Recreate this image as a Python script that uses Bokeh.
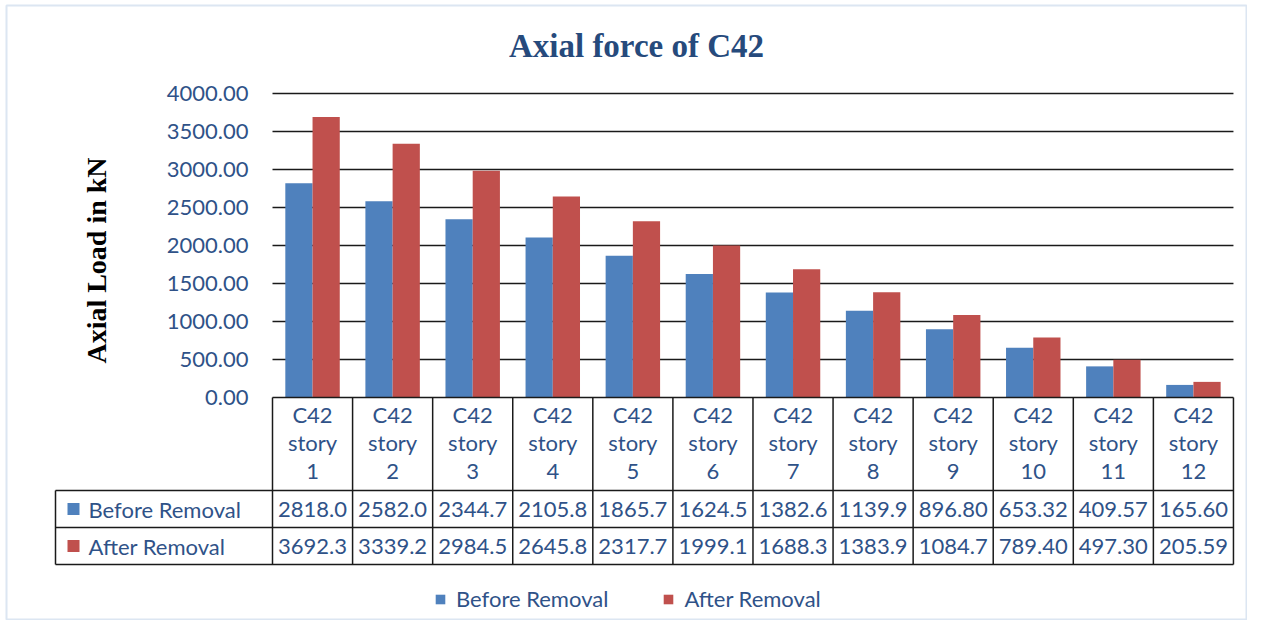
from bokeh.plotting import figure
from bokeh.models import Range1d, ColumnDataSource, Legend, LegendItem
from bokeh.core.properties import value
from bokeh.embed import file_html
from bokeh.resources import INLINE

# ---- data ----
categories = ["C42\nstory\n1", "C42\nstory\n2", "C42\nstory\n3", "C42\nstory\n4",
              "C42\nstory\n5", "C42\nstory\n6", "C42\nstory\n7", "C42\nstory\n8",
              "C42\nstory\n9", "C42\nstory\n10", "C42\nstory\n11", "C42\nstory\n12"]
before_removal = [2818.0, 2582.0, 2344.7, 2105.8, 1865.7, 1624.5,
                  1382.6, 1139.9, 896.80, 653.32, 409.57, 165.60]
after_removal = [3692.3, 3339.2, 2984.5, 2645.8, 2317.7, 1999.1,
                 1688.3, 1383.9, 1084.7, 789.40, 497.30, 205.59]
series_names = ["Before Removal", "After Removal"]
y_ticks = [0, 500, 1000, 1500, 2000, 2500, 3000, 3500, 4000]
title_text = "Axial force of C42"
y_label = "Axial Load in kN"

# ---- styles ----
BLUE = "#4F81BD"
RED = "#C0504D"
TXT = "#2F5288"
FONT = value("Lato")
SERIF = value("Liberation Serif")
FS = "22px"

W, H = 1247, 620
FL, FT = 6, 5            # frame offset (outline position)
PX_PER_CAT = 80.08       # pixel width of one category
LEFT_PX = 272            # canvas x of plot-area left
PX_PER_UNIT = 0.076      # pixel per kN
ZERO_PX = 397            # canvas y of zero line

x0 = (FL - LEFT_PX) / PX_PER_CAT
x1 = (W - LEFT_PX) / PX_PER_CAT
y1 = (ZERO_PX - FT) / PX_PER_UNIT
y0 = -(H - ZERO_PX) / PX_PER_UNIT


def ypx(cy):
    """canvas pixel row -> value units (layout helper for table/labels)"""
    return (ZERO_PX - cy) / PX_PER_UNIT


def xpx(cx):
    return (cx - LEFT_PX) / PX_PER_CAT


p = figure(width=W, height=H, x_range=Range1d(x0, x1), y_range=Range1d(y0, y1),
           x_axis_type=None, y_axis_type=None, toolbar_location=None,
           output_backend="svg", min_border=0, min_border_left=FL, min_border_top=FT)
p.grid.visible = False
p.outline_line_color = "#DCE6F2"
p.outline_line_width = 2
p.background_fill_color = "white"
p.border_fill_color = "white"

n = len(categories)
centers = [i + 0.5 for i in range(n)]

# gridlines
p.segment(x0=[0] * len(y_ticks[1:]), x1=[n] * len(y_ticks[1:]), y0=y_ticks[1:], y1=y_ticks[1:],
          line_color="#1A1A1A", line_width=1.5)
# y tick labels
p.text(x=[xpx(248)] * len(y_ticks), y=y_ticks, text=[f"{t:.2f}" for t in y_ticks],
       text_font=FONT, text_font_size=FS, text_color=TXT, text_align="right",
       text_baseline="middle")

# bars
src = ColumnDataSource(dict(xb=[c - 0.17 for c in centers], xa=[c + 0.17 for c in centers],
                            before=before_removal, after=after_removal))
rb = p.vbar(x="xb", top="before", bottom=0, width=0.34, source=src,
            fill_color=BLUE, line_color=None)
ra = p.vbar(x="xa", top="after", bottom=0, width=0.34, source=src,
            fill_color=RED, line_color=None)

# table
row_tops = [ypx(490), ypx(527)]
row_bot = ypx(564)
left_col = xpx(55)
LC = "#1A1A1A"
p.segment(x0=list(range(n + 1)), x1=list(range(n + 1)), y0=[0] * (n + 1), y1=[row_bot] * (n + 1),
          line_color=LC, line_width=1.5)
p.segment(x0=[left_col], x1=[left_col], y0=[row_tops[0]], y1=[row_bot], line_color=LC, line_width=1.5)
p.segment(x0=[0], x1=[n], y0=[0], y1=[0], line_color=LC, line_width=1.5)
p.segment(x0=[left_col] * 3, x1=[n] * 3, y0=row_tops + [row_bot], y1=row_tops + [row_bot],
          line_color=LC, line_width=1.5)

# category labels
p.text(x=centers, y=[ypx(442)] * n, text=categories, text_font=FONT, text_font_size=FS,
       text_color=TXT, text_align="center", text_baseline="middle", text_line_height=1.04)


def fmt(v):
    return f"{v:.1f}" if v >= 1000 else f"{v:.2f}"


row_y = [ypx(508.5), ypx(545.5)]
for vals, yy in zip([before_removal, after_removal], row_y):
    p.text(x=centers, y=[yy] * n, text=[fmt(v) for v in vals], text_font=FONT,
           text_font_size=FS, text_color=TXT, text_align="center", text_baseline="middle")

# table legend keys
p.scatter(x=[xpx(73)] * 2, y=row_y, marker="square", size=12, fill_color=[BLUE, RED],
          line_color=None)
p.text(x=[xpx(88)] * 2, y=row_y, text=series_names, text_font=FONT, text_font_size=FS,
       text_color=TXT, text_align="left", text_baseline="middle")

# title
p.text(x=[xpx(636)], y=[ypx(45)], text=[title_text], text_font=SERIF, text_font_size="33px",
       text_font_style="bold", text_color="#264A7C", text_align="center", text_baseline="middle")
# y axis label
p.text(x=[xpx(96)], y=[ypx(260)], text=[y_label], text_font=SERIF, text_font_size="28px",
       text_font_style="bold", text_color="black", text_align="center", text_baseline="middle",
       angle=1.5708)

# bottom legend
legend = Legend(items=[LegendItem(label=series_names[0], renderers=[rb]),
                       LegendItem(label=series_names[1], renderers=[ra])],
                orientation="horizontal", location=(428, 8), padding=0, margin=0,
                spacing=54, glyph_width=12, glyph_height=12, label_standoff=10,
                label_text_font="Lato", label_text_font_size=FS, label_text_color=TXT,
                border_line_color=None, background_fill_alpha=0)
p.add_layout(legend, "center")

open("out.html", "w").write(file_html(p, INLINE))
